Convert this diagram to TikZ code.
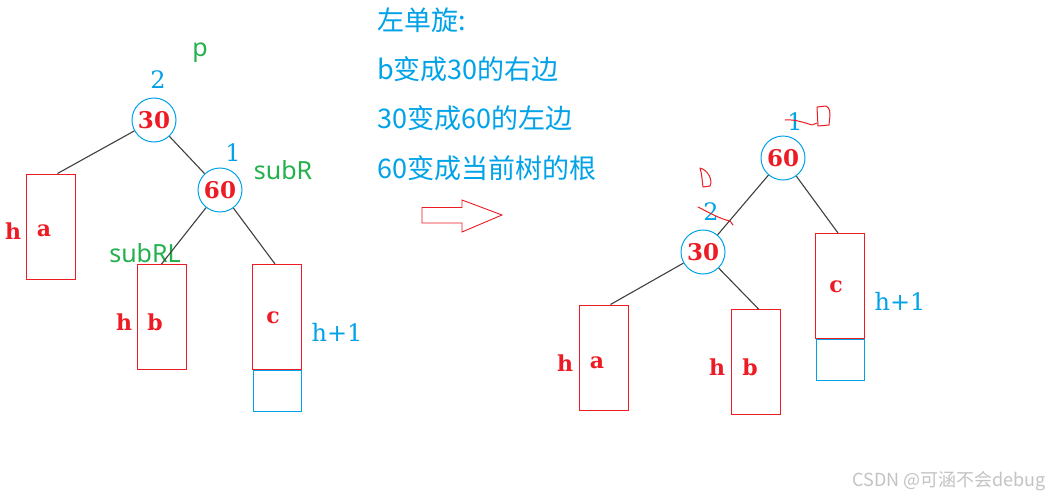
\documentclass[tikz,border=0pt]{standalone}
\usepackage{fontspec}
\setmainfont{DejaVu Serif}
\newfontfamily\cjk{Noto Sans CJK SC}
\newfontfamily\gsans{Noto Sans}
\definecolor{pblue}{RGB}{0,162,232}
\definecolor{pred}{RGB}{237,28,36}
\definecolor{pgreen}{RGB}{34,177,76}
\definecolor{edge}{RGB}{64,64,64}
\definecolor{wm}{RGB}{195,195,195}
\begin{document}
\begin{tikzpicture}[x=1pt,y=-1pt,
  tnode/.style={circle,draw=pblue,line width=1pt,minimum size=44pt,inner sep=0pt,text=pred,font=\fontsize{23}{25}\selectfont\bfseries},
  subtree/.style={rectangle,draw=pred,line width=1pt,minimum width=49pt,minimum height=105pt,inner sep=0pt},
  extra/.style={rectangle,draw=pblue,line width=1pt,minimum width=48pt,minimum height=41pt,inner sep=0pt},
  rlab/.style={text=pred,font=\fontsize{22}{24}\selectfont\bfseries,inner sep=0pt},
  blab/.style={text=pblue,font=\fontsize{24}{26}\selectfont,inner sep=0pt},
  glab/.style={text=pgreen,font=\gsans\fontsize{25}{27}\selectfont,inner sep=0pt},
  ctext/.style={text=pblue,font=\cjk\fontsize{27}{30}\selectfont,inner sep=0pt,anchor=west},
  tedge/.style={draw=edge,line width=1.1pt},
  scribble/.style={draw=pred,line width=1pt,line cap=round,line join=round}]
\useasboundingbox (0,0) rectangle (1053,498);
\fill[white] (0,0) rectangle (1053,498);

% ---------- left tree ----------
\node[extra] (Lcx) at (277.5,390.5) {};
\node[tnode] (L30) at (154,120) {30};
\node[tnode] (L60) at (220,190) {60};
\node[subtree] (La) at (50.5,226.5) {};
\node[subtree] (Lb) at (161.5,317) {};
\node[subtree] (Lc) at (277,317) {};
\node[blab] (L2) at (158,80) {2};
\node[glab] (Lp) at (200,53) {p};
\node[blab] (L1) at (233,153) {1};
\node[glab] (LsubR) at (283,170) {subR};
\node[glab] (LsubRL) at (145,253) {subRL};
\node[rlab] (Lha) at (13,231) {h};
\node[rlab] (Lta) at (44,231) {a};
\node[rlab] (Lhb) at (124,322) {h};
\node[rlab] (Ltb) at (155,322) {b};
\node[rlab] (Ltc) at (273,318) {c};
\node[blab] (Lh1) at (337,332) {h+1};
\draw[tedge] (L30) -- ([xshift=7pt]La.north);
\draw[tedge] (L30) -- (L60);
\draw[tedge] (L60) -- (Lb.north);
\draw[tedge] (L60) -- ([xshift=-2pt]Lc.north);

% ---------- middle text ----------
\node[ctext] (t1) at (377,20) {左单旋:};
\node[ctext] (t2) at (377,69) {b变成30的右边};
\node[ctext] (t3) at (377,118) {30变成60的左边};
\node[ctext] (t4) at (377,168) {60变成当前树的根};

% hollow arrow
\coordinate (arrS) at (422,215);
\coordinate (arrE) at (502,215);
\draw[pred,line width=0.9pt,line join=miter]
  (arrS) ++(0,-7.5) -- ++(40,0) -- ++(0,-7.5) -- (arrE) -- ++(-40,17) -- ++(0,-9) -- ++(-40,0) -- cycle;

% ---------- right tree ----------
\node[extra] (Rcx) at (840.5,359.5) {};
\node[tnode] (R60) at (783,158) {60};
\node[tnode] (R30) at (703,252) {30};
\node[subtree] (Ra) at (603.5,357.5) {};
\node[subtree] (Rb) at (755.5,362) {};
\node[subtree] (Rc) at (840,286) {};
\node[blab] (R1) at (795,122) {1};
\node[blab] (R2) at (711,212) {2};
\node[rlab] (Rha) at (565,363) {h};
\node[rlab] (Rta) at (597,363) {a};
\node[rlab] (Rhb) at (717,367) {h};
\node[rlab] (Rtb) at (750,367) {b};
\node[rlab] (Rtc) at (836,287) {c};
\node[blab] (Rh1) at (900,301) {h+1};
\draw[tedge] (R60) -- (R30);
\draw[tedge] (R60) -- ([xshift=-2pt]Rc.north);
\draw[tedge] (R30) -- ([xshift=7pt]Ra.north);
\draw[tedge] (R30) -- ([xshift=3pt]Rb.north);

% red scribbles
\draw[scribble] (785,120) .. controls (795,119) and (805,123) .. (812,125) -- (817,123);
\draw[scribble] (817,107) -- (826,106) .. controls (830,108) and (830,112) .. (830,115) -- (829,125) -- (818,126) -- (817,107);
\draw[scribble] (700,168) .. controls (708,170) and (713,180) .. (710,186) -- (703,187) .. controls (702,180) and (702,174) .. (700,168);
\draw[scribble] (698,207) .. controls (708,212) and (720,219) .. (730,221) -- (733,225);

% watermark
\node[text=wm,font=\cjk\fontsize{18}{20}\selectfont,inner sep=0pt,anchor=east] (wmk) at (1046,481) {CSDN @可涵不会debug};
\end{tikzpicture}
\end{document}
